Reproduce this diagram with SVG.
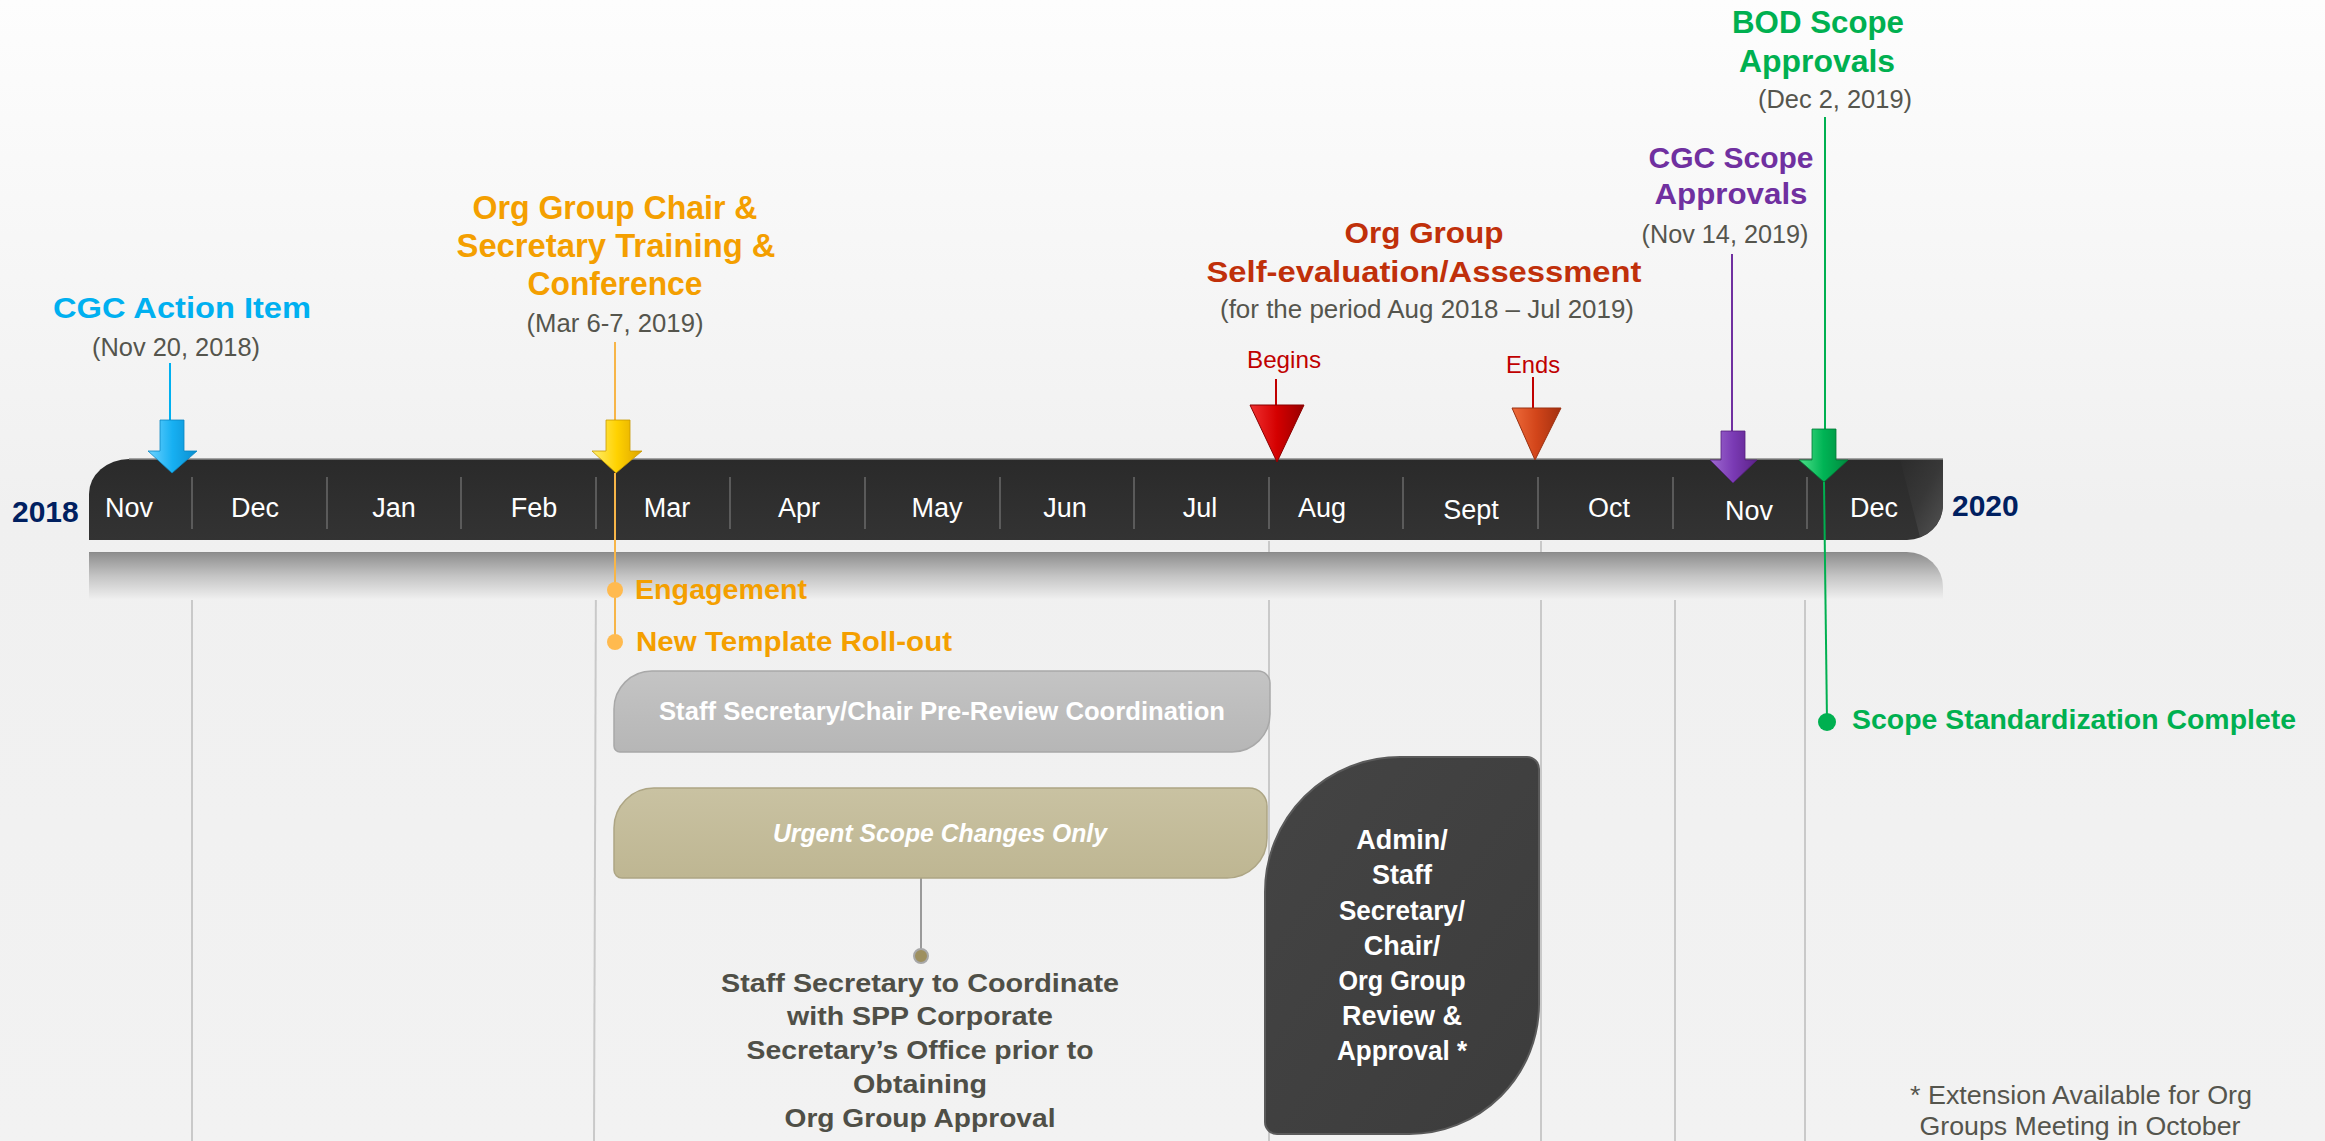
<svg xmlns="http://www.w3.org/2000/svg" width="2325" height="1141" viewBox="0 0 2325 1141">
<defs>
<linearGradient id="bg" x1="0" y1="0" x2="0" y2="1">
<stop offset="0" stop-color="#FDFDFD"/><stop offset="0.45" stop-color="#F0F0F0"/><stop offset="1" stop-color="#F2F2F2"/>
</linearGradient>
<linearGradient id="barG" x1="0" y1="0" x2="0" y2="1">
<stop offset="0" stop-color="#2A2A2A"/><stop offset="1" stop-color="#333333"/>
</linearGradient>
<linearGradient id="reflG" x1="0" y1="0" x2="0" y2="1">
<stop offset="0" stop-color="#8C8C8C"/><stop offset="0.5" stop-color="#C4C4C4"/><stop offset="1" stop-color="#F1F1F1"/>
</linearGradient>
<linearGradient id="bevel" x1="0" y1="0" x2="1" y2="1">
<stop offset="0" stop-color="#2C2C2C"/><stop offset="0.5" stop-color="#3A3A3A"/><stop offset="1" stop-color="#5A5A5A"/>
</linearGradient>
<linearGradient id="blueA" x1="0" y1="0" x2="1" y2="0">
<stop offset="0" stop-color="#6FD3FF"/><stop offset="0.5" stop-color="#17B0F2"/><stop offset="1" stop-color="#0B8ECF"/>
</linearGradient>
<linearGradient id="yelA" x1="0" y1="0" x2="1" y2="0">
<stop offset="0" stop-color="#FFEE70"/><stop offset="0.5" stop-color="#FFD200"/><stop offset="1" stop-color="#DDA400"/>
</linearGradient>
<linearGradient id="purA" x1="0" y1="0" x2="1" y2="0">
<stop offset="0" stop-color="#9E6AD0"/><stop offset="0.5" stop-color="#7A3AB4"/><stop offset="1" stop-color="#5C2288"/>
</linearGradient>
<linearGradient id="grnA" x1="0" y1="0" x2="1" y2="0">
<stop offset="0" stop-color="#4FE08A"/><stop offset="0.5" stop-color="#00B455"/><stop offset="1" stop-color="#008A3E"/>
</linearGradient>
<linearGradient id="redA" x1="0" y1="0" x2="1" y2="0">
<stop offset="0" stop-color="#F03030"/><stop offset="0.5" stop-color="#D40000"/><stop offset="1" stop-color="#980000"/>
</linearGradient>
<linearGradient id="orgA" x1="0" y1="0" x2="1" y2="0">
<stop offset="0" stop-color="#EE6A3A"/><stop offset="0.5" stop-color="#D2451A"/><stop offset="1" stop-color="#A33010"/>
</linearGradient>
<linearGradient id="greyBox" x1="0" y1="0" x2="0" y2="1">
<stop offset="0" stop-color="#C4C4C4"/><stop offset="1" stop-color="#B6B6B6"/>
</linearGradient>
<linearGradient id="tanBox" x1="0" y1="0" x2="0" y2="1">
<stop offset="0" stop-color="#C9C2A2"/><stop offset="1" stop-color="#BEB692"/>
</linearGradient>
<linearGradient id="darkBox" x1="0" y1="0" x2="1" y2="1">
<stop offset="0" stop-color="#444444"/><stop offset="1" stop-color="#3C3C3C"/>
</linearGradient>
</defs>
<style>
text{font-family:"Liberation Sans",Arial,sans-serif}
.mon{fill:#FFFFFF;font-size:27px;text-anchor:middle}
.yr{fill:#002060;font-size:30px;font-weight:bold}
.ttl{font-weight:bold;text-anchor:middle}
.date{fill:#55554D;font-size:25px;text-anchor:middle}
.div{stroke:#6A6A6A;stroke-width:1.5}
.grid{stroke:#C9C9C9;stroke-width:2}
.box{fill:#FFFFFF;font-weight:bold;text-anchor:middle}
.note{fill:#4F4F47;font-weight:bold;font-size:26px;text-anchor:middle}
</style>
<rect x="0" y="0" width="2325" height="1141" fill="url(#bg)"/>

<g id="grid-lines">
<line class="grid" x1="192" y1="557" x2="192" y2="1141"/>
<line class="grid" x1="596" y1="562" x2="594" y2="1141"/>
<line class="grid" x1="1269" y1="541" x2="1269" y2="1141"/>
<line class="grid" x1="1541" y1="541" x2="1541" y2="1141"/>
<line class="grid" x1="1675" y1="556" x2="1675" y2="1141"/>
<line class="grid" x1="1805" y1="556" x2="1805" y2="1141"/>
</g>

<g id="timeline-bar">
<path d="M89,552 H1907 A36,35 0 0 1 1943,587 V600 H89 Z" fill="url(#reflG)"/>
<line x1="89" y1="552.5" x2="1907" y2="552.5" stroke="#8A8A8A" stroke-width="1"/>
<path d="M89,540 V494 A40,35 0 0 1 129,459 H1943 V505 A36,35 0 0 1 1907,540 Z" fill="url(#barG)"/>
<path d="M1900,459 H1943 V505 A36,35 0 0 1 1920,537 Z" fill="url(#bevel)" opacity="0.8"/>
<path d="M129,459 H1943" stroke="#8A8A8A" stroke-width="1.5" fill="none"/>
<line class="div" x1="192" y1="477" x2="192" y2="529"/>
<line class="div" x1="327" y1="477" x2="327" y2="529"/>
<line class="div" x1="461" y1="477" x2="461" y2="529"/>
<line class="div" x1="596" y1="477" x2="596" y2="529"/>
<line class="div" x1="730" y1="477" x2="730" y2="529"/>
<line class="div" x1="865" y1="477" x2="865" y2="529"/>
<line class="div" x1="1000" y1="477" x2="1000" y2="529"/>
<line class="div" x1="1134" y1="477" x2="1134" y2="529"/>
<line class="div" x1="1269" y1="477" x2="1269" y2="529"/>
<line class="div" x1="1403" y1="477" x2="1403" y2="529"/>
<line class="div" x1="1538" y1="477" x2="1538" y2="529"/>
<line class="div" x1="1673" y1="477" x2="1673" y2="529"/>
<line class="div" x1="1807" y1="477" x2="1807" y2="529"/>
<text class="mon" x="129" y="517">Nov</text>
<text class="mon" x="255" y="517">Dec</text>
<text class="mon" x="394" y="517">Jan</text>
<text class="mon" x="534" y="517">Feb</text>
<text class="mon" x="667" y="517">Mar</text>
<text class="mon" x="799" y="517">Apr</text>
<text class="mon" x="937" y="517">May</text>
<text class="mon" x="1065" y="517">Jun</text>
<text class="mon" x="1200" y="517">Jul</text>
<text class="mon" x="1322" y="517">Aug</text>
<text class="mon" x="1471" y="519">Sept</text>
<text class="mon" x="1609" y="517">Oct</text>
<text class="mon" x="1749" y="520">Nov</text>
<text class="mon" x="1874" y="517">Dec</text>
<text class="yr" x="12" y="522">2018</text>
<text class="yr" x="1952" y="516">2020</text>
</g>

<g id="connectors" fill="none" stroke-width="2">
<line x1="170" y1="363" x2="170" y2="420" stroke="#00B0F0"/>
<line x1="615" y1="342" x2="615" y2="420" stroke="#F7B548"/>
<line x1="615" y1="473" x2="615" y2="642" stroke="#F7B548"/>
<line x1="1276" y1="379" x2="1276" y2="405" stroke="#C00000"/>
<line x1="1533" y1="377" x2="1533" y2="408" stroke="#C00000"/>
<line x1="1732" y1="254" x2="1732" y2="431" stroke="#7030A0"/>
<line x1="1825" y1="117" x2="1825" y2="429" stroke="#00B050"/>
<line x1="1824" y1="482" x2="1827" y2="722" stroke="#00B050"/>
<line x1="921" y1="878" x2="921" y2="956" stroke="#9A9A9A"/>
</g>

<g id="cgc-action-item">
<text class="ttl" x="182" y="318" font-size="29" fill="#00B0F0" textLength="258" lengthAdjust="spacingAndGlyphs">CGC Action Item</text>
<text class="date" x="176" y="356" textLength="168" lengthAdjust="spacingAndGlyphs">(Nov 20, 2018)</text>
<path d="M160,420 H184 V451 H197 L172,473 L148,451 H160 Z" fill="url(#blueA)" stroke="#0A86C2" stroke-width="0.8"/>
</g>

<g id="training-conference">
<text class="ttl" x="615" y="219" font-size="33" fill="#F49F00" textLength="285" lengthAdjust="spacingAndGlyphs">Org Group Chair &amp;</text>
<text class="ttl" x="616" y="257" font-size="33" fill="#F49F00" textLength="319" lengthAdjust="spacingAndGlyphs">Secretary Training &amp;</text>
<text class="ttl" x="615" y="295" font-size="33" fill="#F49F00" textLength="175" lengthAdjust="spacingAndGlyphs">Conference</text>
<text class="date" x="615" y="332" textLength="177" lengthAdjust="spacingAndGlyphs">(Mar 6-7, 2019)</text>
<path d="M606,420 H630 V451 H642 L616,473 L592,451 H606 Z" fill="url(#yelA)" stroke="#C89A00" stroke-width="0.8"/>
</g>

<g id="engagement">
<circle cx="615" cy="590" r="8" fill="#FFBA4F"/>
<text x="635" y="599" font-size="27" font-weight="bold" fill="#F49F00" textLength="172" lengthAdjust="spacingAndGlyphs">Engagement</text>
</g>

<g id="template-rollout">
<circle cx="615" cy="642" r="8" fill="#FFBA4F"/>
<text x="636" y="651" font-size="27" font-weight="bold" fill="#F49F00" textLength="316" lengthAdjust="spacingAndGlyphs">New Template Roll-out</text>
</g>

<g id="self-evaluation">
<text class="ttl" x="1424" y="243" font-size="30" fill="#C0300A" textLength="159" lengthAdjust="spacingAndGlyphs">Org Group</text>
<text class="ttl" x="1424" y="282" font-size="30" fill="#C0300A" textLength="435" lengthAdjust="spacingAndGlyphs">Self-evaluation/Assessment</text>
<text class="date" x="1427" y="318" font-size="26" textLength="414" lengthAdjust="spacingAndGlyphs">(for the period Aug 2018 – Jul 2019)</text>
</g>

<g id="begins">
<text x="1284" y="368" font-size="24" fill="#C00000" text-anchor="middle" textLength="74" lengthAdjust="spacingAndGlyphs">Begins</text>
<path d="M1250,405 H1304 L1277,462 Z" fill="url(#redA)" stroke="#8A0000" stroke-width="1"/>
</g>

<g id="ends">
<text x="1533" y="373" font-size="24" fill="#C00000" text-anchor="middle" textLength="54" lengthAdjust="spacingAndGlyphs">Ends</text>
<path d="M1512,408 H1561 L1535,460 Z" fill="url(#orgA)" stroke="#9A3010" stroke-width="1"/>
</g>

<g id="cgc-scope-approvals">
<text class="ttl" x="1731" y="168" font-size="30" fill="#7030A0" textLength="165" lengthAdjust="spacingAndGlyphs">CGC Scope</text>
<text class="ttl" x="1731" y="204" font-size="30" fill="#7030A0" textLength="153" lengthAdjust="spacingAndGlyphs">Approvals</text>
<text class="date" x="1725" y="243" textLength="167" lengthAdjust="spacingAndGlyphs">(Nov 14, 2019)</text>
<path d="M1721,431 H1745 V460 H1757 L1733,483 L1710,460 H1721 Z" fill="url(#purA)" stroke="#56207E" stroke-width="0.8"/>
</g>

<g id="bod-scope-approvals">
<text class="ttl" x="1818" y="33" font-size="31" fill="#00B050" textLength="172" lengthAdjust="spacingAndGlyphs">BOD Scope</text>
<text class="ttl" x="1817" y="72" font-size="31" fill="#00B050" textLength="156" lengthAdjust="spacingAndGlyphs">Approvals</text>
<text class="date" x="1835" y="108" textLength="154" lengthAdjust="spacingAndGlyphs">(Dec 2, 2019)</text>
<path d="M1812,429 H1836 V460 H1848 L1824,482 L1799,460 H1812 Z" fill="url(#grnA)" stroke="#007A36" stroke-width="0.8"/>
</g>

<g id="scope-complete">
<circle cx="1827" cy="722" r="9" fill="#00B050"/>
<text x="1852" y="729" font-size="28" font-weight="bold" fill="#00B050" textLength="444" lengthAdjust="spacingAndGlyphs">Scope Standardization Complete</text>
</g>

<g id="pre-review">
<path d="M614,709 A38,38 0 0 1 652,671 H1258 A12,12 0 0 1 1270,683 V714 A38,38 0 0 1 1232,752 H620 A6,6 0 0 1 614,746 Z" fill="url(#greyBox)" stroke="#A8A8A8" stroke-width="1.5"/>
<text class="box" x="942" y="720" font-size="25" textLength="566" lengthAdjust="spacingAndGlyphs">Staff Secretary/Chair Pre-Review Coordination</text>
</g>

<g id="urgent-changes">
<path d="M614,828 A40,40 0 0 1 654,788 H1249 A18,18 0 0 1 1267,806 V838 A40,40 0 0 1 1227,878 H622 A8,8 0 0 1 614,870 Z" fill="url(#tanBox)" stroke="#ADA584" stroke-width="1.5"/>
<text class="box" x="940" y="842" font-size="25" font-style="italic" textLength="334" lengthAdjust="spacingAndGlyphs">Urgent Scope Changes Only</text>
</g>

<g id="coordinate-note">
<circle cx="921" cy="956" r="7" fill="#9E9060" stroke="#A8A8A8" stroke-width="2"/>
<text class="note" x="920" y="992" textLength="398" lengthAdjust="spacingAndGlyphs">Staff Secretary to Coordinate</text>
<text class="note" x="920" y="1025" textLength="266" lengthAdjust="spacingAndGlyphs">with SPP Corporate</text>
<text class="note" x="920" y="1059" textLength="347" lengthAdjust="spacingAndGlyphs">Secretary’s Office prior to</text>
<text class="note" x="920" y="1093" textLength="134" lengthAdjust="spacingAndGlyphs">Obtaining</text>
<text class="note" x="920" y="1127" textLength="271" lengthAdjust="spacingAndGlyphs">Org Group Approval</text>
</g>

<g id="review-approval">
<path d="M1265,892 A135,135 0 0 1 1400,757 H1527 A12,12 0 0 1 1539,769 V1004 A130,130 0 0 1 1409,1134 H1277 A12,12 0 0 1 1265,1122 Z" fill="url(#darkBox)" stroke="#5A5A5A" stroke-width="2"/>
<text class="box" x="1402" y="849" font-size="27">Admin/</text>
<text class="box" x="1402" y="884" font-size="27">Staff</text>
<text class="box" x="1402" y="920" font-size="27" textLength="126" lengthAdjust="spacingAndGlyphs">Secretary/</text>
<text class="box" x="1402" y="955" font-size="27">Chair/</text>
<text class="box" x="1402" y="990" font-size="27" textLength="127" lengthAdjust="spacingAndGlyphs">Org Group</text>
<text class="box" x="1402" y="1025" font-size="27">Review &amp;</text>
<text class="box" x="1402" y="1060" font-size="27" textLength="130" lengthAdjust="spacingAndGlyphs">Approval *</text>
</g>

<g id="footnote">
<text x="2081" y="1104" font-size="26" fill="#55554D" text-anchor="middle" textLength="342" lengthAdjust="spacingAndGlyphs">* Extension Available for Org</text>
<text x="2080" y="1135" font-size="26" fill="#55554D" text-anchor="middle" textLength="321" lengthAdjust="spacingAndGlyphs">Groups Meeting in October</text>
</g>
</svg>
